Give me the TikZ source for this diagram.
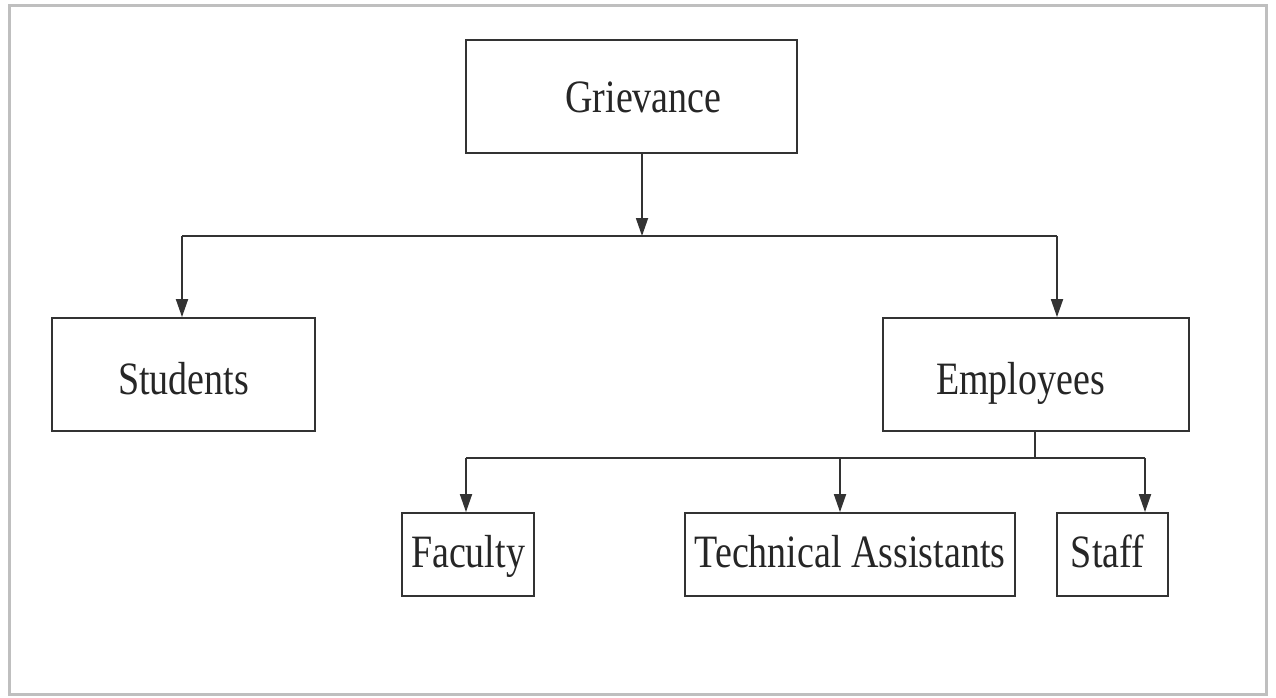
\documentclass[tikz,border=0pt]{standalone}
\usepackage{fontspec}
\setmainfont{Liberation Serif}
\usetikzlibrary{arrows.meta,calc}
\begin{document}
\begin{tikzpicture}[x=1pt,y=-1pt,
  box/.style={draw=black!80,line width=1.8pt,rectangle,inner sep=0pt,
    font=\fontsize{38}{40}\selectfont, text=black!85},
  conn/.style={draw=black!80,line width=1.8pt},
  arr/.style={conn,-{Triangle[width=12pt,length=18pt]}}]
\useasboundingbox (0,0) rectangle (1276,698);
\fill[white] (0,0) rectangle (1276,698);
\draw[black!25,line width=3pt] (9,6) rectangle (1266,694);
\newcommand{\lbl}[2]{\smash{\raisebox{-#1pt}{\scalebox{1}[1.22]{#2}}}}
\node[box,minimum width=331,minimum height=113] (g) at (631.5,96.5) {\hspace*{24pt}\lbl{16.5}{Grievance}};
\node[box,minimum width=263,minimum height=113] (s) at (183.5,374.5) {\lbl{20}{Students}};
\node[box,minimum width=306,minimum height=113] (e) at (1036,374.5) {\lbl{20}{Employees}\hspace*{31pt}};
\node[box,minimum width=132,minimum height=83] (f) at (468,554.5) {\lbl{12.5}{Faculty}};
\node[box,minimum width=330,minimum height=83] (t) at (850,554.5) {\lbl{12.5}{Technical Assistants}};
\node[box,minimum width=111,minimum height=83] (st) at (1112.5,554.5) {\lbl{12.5}{Staff}\hspace*{10pt}};
\coordinate (jm) at (642,236);
\coordinate (jl) at (182,236);
\coordinate (jr) at (1057,236);
\draw[arr] (g.south -| jm) -- (jm);
\draw[conn] (jl) -- (jr);
\draw[arr] (jl) -- (jl |- s.north);
\draw[arr] (jr) -- (jr |- e.north);
\coordinate (ks) at (1035,458);
\coordinate (kf) at (466,458);
\coordinate (kt) at (840,458);
\coordinate (kst) at (1145,458);
\draw[conn] (e.south -| ks) -- (ks);
\draw[conn] (kf) -- (kst);
\draw[arr] (kf) -- (kf |- f.north);
\draw[arr] (kt) -- (kt |- t.north);
\draw[arr] (kst) -- (kst |- st.north);
\end{tikzpicture}
\end{document}
